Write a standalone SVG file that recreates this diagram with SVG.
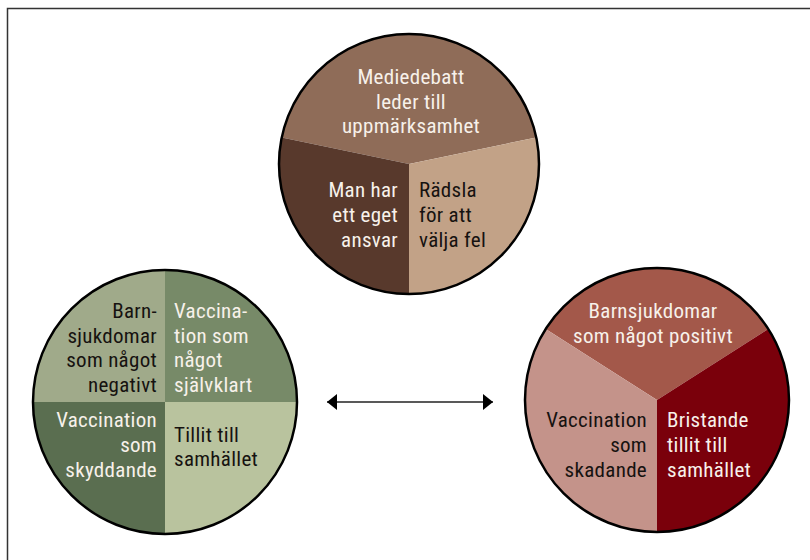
<svg xmlns="http://www.w3.org/2000/svg" width="810" height="560" viewBox="0 0 810 560">
<defs>
<style>
text{font-family:"Liberation Sans Narrow","Roboto Condensed",Roboto,"Liberation Sans",sans-serif;font-size:21px;letter-spacing:0.3px}
.w{fill:#f7f1ea}
.d{fill:#161210}
.r{text-anchor:end}
.c{text-anchor:middle}
.ring{fill:none;stroke:#000;stroke-width:2.5}
</style>
<marker id="ah" viewBox="0 0 10 16" refX="10" refY="8" markerWidth="10" markerHeight="16" markerUnits="userSpaceOnUse" orient="auto-start-reverse">
<path d="M0,0 L10,8 L0,16 Z" fill="#000"/>
</marker>
</defs>
<rect width="810" height="560" fill="#fff"/>
<path d="M7.5,570 V8.5 H820" fill="none" stroke="#333" stroke-width="1.5"/>

<g id="top-circle">
<path d="M409,164 L281.75,137.4 A130,130 0 0 1 536.25,137.4 Z" fill="#8f6c58"/>
<path d="M409,164 L409,294 A130,130 0 0 1 281.75,137.4 Z" fill="#58392c"/>
<path d="M409,164 L536.25,137.4 A130,130 0 0 1 409,294 Z" fill="#c2a287"/>
<circle cx="409" cy="164" r="130" class="ring"/>
<text class="w c" x="411" y="84">Mediedebatt</text>
<text class="w c" x="411" y="108.5">leder till</text>
<text class="w c" x="411" y="133">uppmärksamhet</text>
<text class="w r" x="398" y="197">Man har</text>
<text class="w r" x="398" y="222">ett eget</text>
<text class="w r" x="398" y="247">ansvar</text>
<text class="d" x="419" y="197">Rädsla</text>
<text class="d" x="419" y="222">för att</text>
<text class="d" x="419" y="247">välja fel</text>
</g>

<g id="left-circle">
<path d="M165,402 V270 A132,132 0 0 0 33,402 Z" fill="#a0aa8a"/>
<path d="M165,402 H297 A132,132 0 0 0 165,270 Z" fill="#778a68"/>
<path d="M165,402 H33 A132,132 0 0 0 165,534 Z" fill="#5a6e50"/>
<path d="M165,402 V534 A132,132 0 0 0 297,402 Z" fill="#b9c39e"/>
<circle cx="165" cy="402" r="132" class="ring"/>
<text class="d r" x="157" y="318">Barn-</text>
<text class="d r" x="157" y="343">sjukdomar</text>
<text class="d r" x="157" y="367">som något</text>
<text class="d r" x="157" y="392">negativt</text>
<text class="w" x="174" y="318">Vaccina-</text>
<text class="w" x="174" y="343">tion som</text>
<text class="w" x="174" y="367">något</text>
<text class="w" x="174" y="392">självklart</text>
<text class="w r" x="157" y="427">Vaccination</text>
<text class="w r" x="157" y="452">som</text>
<text class="w r" x="157" y="477">skyddande</text>
<text class="d" x="174" y="442">Tillit till</text>
<text class="d" x="174" y="466">samhället</text>
</g>

<g id="right-circle">
<path d="M657,400 L545.7,329 A132,132 0 0 1 768.3,329 Z" fill="#a3584a"/>
<path d="M657,400 L657,532 A132,132 0 0 1 545.7,329 Z" fill="#c4938a"/>
<path d="M657,400 L768.3,329 A132,132 0 0 1 657,532 Z" fill="#7a000b"/>
<circle cx="657" cy="400" r="132" class="ring"/>
<text class="w c" x="653" y="318">Barnsjukdomar</text>
<text class="w c" x="653" y="343">som något positivt</text>
<text class="d r" x="647" y="427">Vaccination</text>
<text class="d r" x="647" y="452">som</text>
<text class="d r" x="647" y="477">skadande</text>
<text class="w" x="667" y="427">Bristande</text>
<text class="w" x="667" y="452">tillit till</text>
<text class="w" x="667" y="477">samhället</text>
</g>

<g id="connectors">
<line x1="327" y1="402" x2="493" y2="402" stroke="#222" stroke-width="1.5" marker-start="url(#ah)" marker-end="url(#ah)"/>
</g>
</svg>
